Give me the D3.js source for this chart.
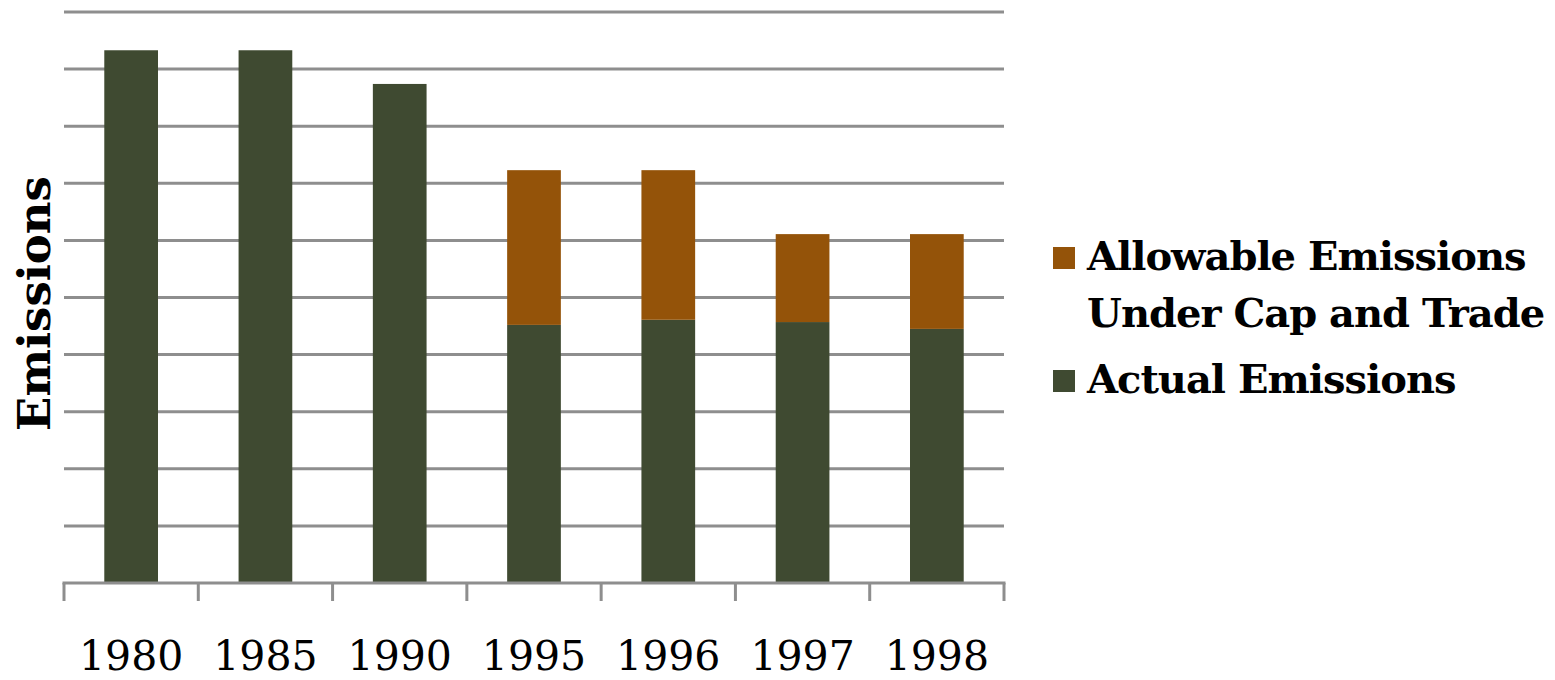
<!DOCTYPE html>
<html>
<head>
<meta charset="utf-8">
<script src="https://cdn.jsdelivr.net/npm/d3@7"></script>
<style>
  body { margin: 0; background: #fff; }
  svg { display: block; }
</style>
</head>
<body>
<script>
var w = 1555;
var h = 680;

// data (units = gridline steps)
var years = ["1980", "1985", "1990", "1995", "1996", "1997", "1998"];
var actual = [9.33, 9.33, 8.74, 4.52, 4.61, 4.57, 4.45];
var allowable = [0, 0, 0, 7.23, 7.23, 6.11, 6.11];   // cap total, 0 where no cap
var gridTicks = [1, 2, 3, 4, 5, 6, 7, 8, 9, 10];
var legendLabels = [["Allowable Emissions", "Under Cap and Trade"], ["Actual Emissions"]];

var green = "#3f4a31";
var orange = "#945309";
var grey = "#8e8e8e";

var plotLeft = 64, plotRight = 1004, plotTop = 12, plotBottom = 583;

//Create scale functions
var xScale = d3.scaleBand()
             .domain(years)
             .range([plotLeft, plotRight])
             .paddingInner(0.6)
             .paddingOuter(0.3);

var yScale = d3.scaleLinear()
            .domain([0, 10])
            .range([plotBottom, plotTop]);

//Create SVG element
var svg = d3.select("body")
            .append("svg")
            .attr("width", w)
            .attr("height", h);

//gridlines
svg.append("g")
   .selectAll("line")
   .data(gridTicks)
   .enter()
   .append("line")
   .attr("x1", plotLeft)
   .attr("x2", plotRight)
   .attr("y1", function(d) { return yScale(d); })
   .attr("y2", function(d) { return yScale(d); })
   .attr("stroke", grey)
   .attr("stroke-width", 3);

//actual emissions
svg.append("g")
   .selectAll("rect")
   .data(years)
   .enter()
   .append("rect")
   .attr("x", function(d) { return xScale(d); })
   .attr("y", function(d, i) { return yScale(actual[i]); })
   .attr("width", xScale.bandwidth())
   .attr("height", function(d, i) { return yScale(0) - yScale(actual[i]); })
   .attr("fill", green);

//allowable part stacked above actual
svg.append("g")
   .selectAll("rect")
   .data(years.filter(function(d, i) { return allowable[i] > 0; }))
   .enter()
   .append("rect")
   .attr("x", function(d) { return xScale(d); })
   .attr("y", function(d) { return yScale(allowable[years.indexOf(d)]); })
   .attr("width", xScale.bandwidth())
   .attr("height", function(d) {
        var i = years.indexOf(d);
        return yScale(actual[i]) - yScale(allowable[i]);
   })
   .attr("fill", orange);

//X axis
var xAxis = d3.axisBottom(xScale).tickSize(0).tickPadding(0);
var gx = svg.append("g")
    .attr("transform", "translate(0," + plotBottom + ")")
    .call(xAxis);
gx.select(".domain").remove();
gx.selectAll("text")
  .attr("y", 87)
  .attr("dy", null)
  .attr("fill", "#000")
  .style("font-family", "'DejaVu Serif', serif")
  .style("font-size", "41px");

svg.append("line")
   .attr("x1", plotLeft - 1.5).attr("x2", plotRight + 1.5)
   .attr("y1", plotBottom).attr("y2", plotBottom)
   .attr("stroke", grey).attr("stroke-width", 3);

var bounds = d3.range(years.length + 1).map(function(i) { return plotLeft + i * xScale.step(); });
svg.append("g")
   .selectAll("line")
   .data(bounds)
   .enter()
   .append("line")
   .attr("x1", function(d) { return d; })
   .attr("x2", function(d) { return d; })
   .attr("y1", plotBottom)
   .attr("y2", plotBottom + 18)
   .attr("stroke", grey)
   .attr("stroke-width", 3);

//Y title
svg.append("text")
   .attr("transform", "translate(50," + ((plotTop + plotBottom) / 2 + 6) + ") rotate(-90)")
   .attr("text-anchor", "middle")
   .style("font-family", "'DejaVu Serif', serif")
   .style("font-weight", "bold")
   .style("font-size", "45px")
   .text("Emissions");

//legend
var legend = svg.append("g");
var legendColors = [orange, green];
var legendY = [270, 393];
legendLabels.forEach(function(lines, k) {
  legend.append("rect")
        .attr("x", 1053).attr("y", legendY[k] - 23)
        .attr("width", 22).attr("height", 22)
        .attr("fill", legendColors[k]);
  lines.forEach(function(t, j) {
    legend.append("text")
          .attr("x", 1087)
          .attr("y", legendY[k] + j * 57)
          .style("font-family", "'DejaVu Serif', serif")
          .style("font-weight", "bold")
          .style("font-size", "40px")
          .style("letter-spacing", "-1px")
          .text(t);
  });
});
</script>
</body>
</html>
